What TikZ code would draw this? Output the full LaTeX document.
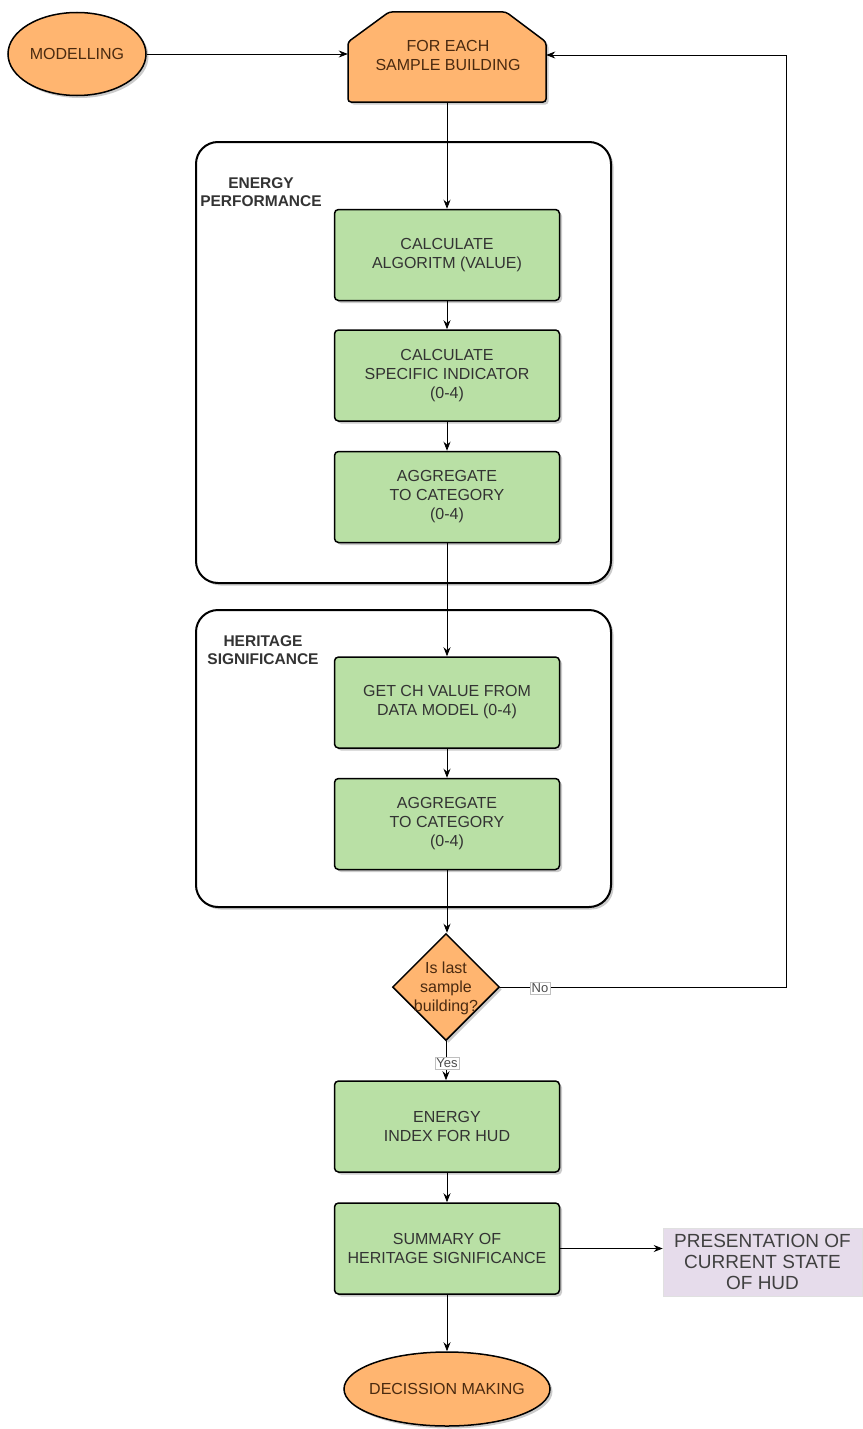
\documentclass[tikz,border=0pt]{standalone}
\usepackage{fontspec}
\setmainfont{Liberation Sans}
\usetikzlibrary{shapes.geometric,arrows.meta,shadows}
\definecolor{orangef}{HTML}{FFB570}
\definecolor{greenf}{HTML}{B9E0A5}
\definecolor{lilac}{HTML}{E6DCEB}
\definecolor{txt}{HTML}{333333}
\definecolor{brtxt}{HTML}{4A2A10}
\begin{document}
\begin{tikzpicture}[x=1pt,y=-1pt,
  every node/.style={font=\fontsize{16}{19}\selectfont, text=txt, align=center},
  shad/.style={drop shadow={shadow xshift=2.5pt, shadow yshift=-2.5pt, fill=black!45, opacity=0.45}},
  gbox/.style={draw=black, line width=1.5pt, fill=greenf, rounded corners=4pt, minimum width=225pt, minimum height=91pt, inner sep=0pt, shad},
  obox/.style={draw=black, line width=1.5pt, fill=orangef, text=brtxt, inner sep=0pt, shad},
  cont/.style={draw=black, line width=2pt, rounded corners=22pt, shad, fill=white},
  lbl/.style={font=\bfseries\fontsize{15.5}{18.5}\selectfont, text=black!80},
  tag/.style={font=\fontsize{13}{15}\selectfont, fill=white, draw=black!25, line width=0.4pt, inner sep=1.5pt, text=black!70},
  arr/.style={-{Stealth[length=9pt,width=7pt]}, line width=0.8pt, black}
]
\useasboundingbox (0,0) rectangle (862,1429);

% containers
\node[cont, minimum width=415pt, minimum height=441pt] (c1) at (403.5,362.5) {};
\node[cont, minimum width=415pt, minimum height=297pt] (c2) at (403.5,758.5) {};
\node[lbl] (l1) at (261,192) {ENERGY\\PERFORMANCE};
\node[lbl] (l2) at (263,650) {HERITAGE\\SIGNIFICANCE};

% start ellipse
\node[obox, ellipse, minimum width=138pt, minimum height=83pt] (model) at (77,54) {MODELLING};

% loop limit shape
\node[minimum width=198pt, minimum height=90pt, inner sep=0pt] (loop) at (447,57) {};
\draw[line width=1.5pt, fill=orangef, shad, rounded corners=3pt]
  (348,42) -- (389,12) -- (506,12) -- (546,42) -- (546,102) -- (348,102) -- cycle;
\node[text=brtxt] (looptxt) at (448,55) {FOR EACH\\SAMPLE BUILDING};

% green boxes
\node[gbox] (b1) at (447,255) {CALCULATE\\ALGORITM (VALUE)};
\node[gbox] (b2) at (447,375.5) {CALCULATE\\SPECIFIC INDICATOR\\(0-4)};
\node[gbox] (b3) at (447,497) {AGGREGATE\\TO CATEGORY\\(0-4)};
\node[gbox] (b4) at (447,702.5) {GET CH VALUE FROM\\DATA MODEL (0-4)};
\node[gbox] (b5) at (447,824) {AGGREGATE\\TO CATEGORY\\(0-4)};

% decision
\node[obox, diamond, minimum width=107pt, minimum height=107pt] (dec) at (446,987) {};
\node[text=brtxt] (dectxt) at (446,988) {Is last\\sample\\building?};

\node[gbox] (b6) at (447,1126.5) {ENERGY\\INDEX FOR HUD};
\node[gbox] (b7) at (447,1248.5) {SUMMARY OF\\HERITAGE SIGNIFICANCE};

\node[fill=lilac, draw=black!12, line width=0.6pt, minimum width=199pt, minimum height=68pt, inner sep=0pt,
      font=\fontsize{19}{21}\selectfont, text=black!75] (pres) at (762.5,1262) {PRESENTATION OF\\CURRENT STATE\\OF HUD};

\node[obox, ellipse, minimum width=206pt, minimum height=74pt] (end) at (447,1389) {};
\node[text=brtxt] (endtxt) at (447,1389) {DECISSION MAKING};

% connectors
\draw[arr] (model.east) -- (loop.west |- model.east);
\draw[arr] (loop.south) -- (b1.north);
\draw[arr] (b1) -- (b2);
\draw[arr] (b2) -- (b3);
\draw[arr] (b3) -- (b4);
\draw[arr] (b4) -- (b5);
\draw[arr] (b5.south) -- (b5.south |- dec.north);
\coordinate (cr) at (786,987);
\coordinate (ctop) at (786,55);
\draw[arr] (dec.east) -- (cr) -- (ctop) -- (loop.east |- ctop);
\node[tag] (no) at (540,988) {No};
\draw[arr] (dec.south) -- (dec.south |- b6.north);
\node[tag] (yes) at (447,1063) {Yes};
\draw[arr] (b6) -- (b7);
\draw[arr] (b7.east) -- (pres.west |- b7.east);
\draw[arr] (b7) -- (end);
\end{tikzpicture}
\end{document}
